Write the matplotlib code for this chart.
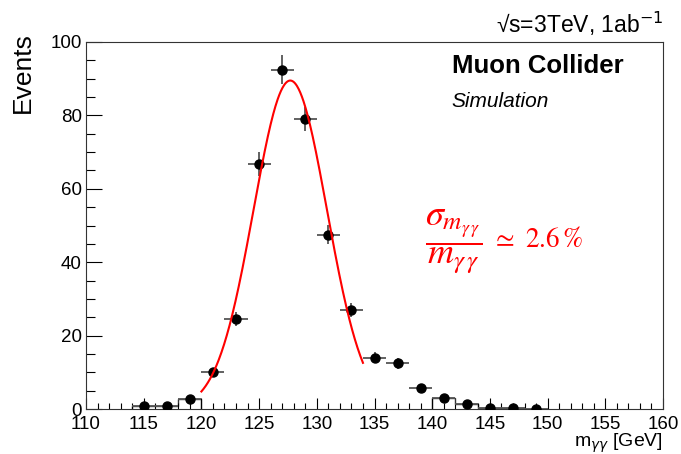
import numpy as np
import matplotlib
matplotlib.use("Agg")
import matplotlib.pyplot as plt
from matplotlib.ticker import MultipleLocator

plt.rcParams['font.family'] = ['Liberation Sans', 'DejaVu Sans']

# Diphoton invariant mass histogram (2 GeV bins)
bin_centers = [115, 117, 119, 121, 123, 125, 127, 129, 131, 133,
               135, 137, 139, 141, 143, 145, 147, 149]
events = [0.9, 0.7, 2.7, 10.0, 24.5, 66.8, 92.5, 79.0, 47.5, 27.0,
          14.0, 12.5, 5.8, 3.0, 1.3, 0.3, 0.2, 0.1]
event_errors = [0.4, 0.4, 0.7, 1.3, 2.0, 3.3, 4.0, 3.3, 2.6, 1.8,
                1.5, 1.5, 1.0, 0.7, 0.5, 0.3, 0.2, 0.2]
bin_halfwidth = 1.0

# Gaussian fit result
fit_range = (120.0, 134.0)
fit_amp = 89.5
fit_mean = 127.7
fit_sigma = 3.18

x = np.array(bin_centers, dtype=float)
y = np.array(events)
ey = np.array(event_errors)

fig = plt.figure(figsize=(6.81, 4.54), dpi=100)
ax = fig.add_axes([86/681, 1 - 409/454, 577/681, 367/454])

# histogram outline, only visible outside the fit window
edges = np.append(x - bin_halfwidth, x[-1] + bin_halfwidth)
for lo, hi in [(114, 120), (140, 150)]:
    m = (x > lo) & (x < hi)
    e = edges[np.append(m, False) | np.append(False, m)]
    ax.stairs(y[m], e, color='#333333', lw=1.0, baseline=0, fill=False)

ax.errorbar(x, y, xerr=bin_halfwidth, yerr=ey, fmt='o', color='black',
            ecolor='#555555', elinewidth=1.3, capsize=0, markersize=6.5, zorder=3)

xf = np.linspace(fit_range[0], fit_range[1], 300)
yf = fit_amp * np.exp(-0.5 * ((xf - fit_mean) / fit_sigma) ** 2)
ax.plot(xf, yf, color='#ff0000', lw=1.5, zorder=4)

ax.set_xlim(110, 160)
ax.set_ylim(0, 100)
ax.xaxis.set_major_locator(MultipleLocator(5))
ax.xaxis.set_minor_locator(MultipleLocator(1))
ax.yaxis.set_major_locator(MultipleLocator(20))
ax.yaxis.set_minor_locator(MultipleLocator(5))
ax.tick_params(axis='x', which='major', direction='in', length=8, width=0.8, labelsize=13.5, pad=5)
ax.tick_params(axis='x', which='minor', direction='in', length=4, width=0.8)
ax.tick_params(axis='y', which='major', direction='in', length=11.5, width=0.8, labelsize=13.5, pad=3)
ax.tick_params(axis='y', which='minor', direction='in', length=6.5, width=0.8)
for s in ax.spines.values():
    s.set_linewidth(0.8)
    s.set_color('#333333')

ax.set_ylabel('Events', fontsize=19, loc='top')
ax.yaxis.set_label_coords(-0.088, 1.027)
ax.set_xlabel(r'm$_{\gamma\gamma}$ [GeV]', fontsize=14, loc='right')
ax.xaxis.set_label_coords(1.0, -0.062)

ax.text(1.0, 1.0245, '\u221as=3TeV, 1ab$^{-1}$', transform=ax.transAxes,
        ha='right', va='baseline', fontsize=16.5)
ax.text(0.634, 0.9155, 'Muon Collider', transform=ax.transAxes,
        ha='left', va='baseline', fontsize=18.5, fontweight='bold')
ax.text(0.633, 0.823, 'Simulation', transform=ax.transAxes,
        ha='left', va='baseline', fontsize=15, style='italic')

# resolution annotation
ax.text(0.5875, 0.455, r'$\dfrac{\sigma_{m_{\gamma\,\gamma}}}{m_{\gamma\,\gamma}}$',
        transform=ax.transAxes, ha='left', va='center', fontsize=26,
        color='#ff0000', math_fontfamily='stix')
ax.text(0.7036, 0.458, r'$\simeq$ 2.6$\,$%', transform=ax.transAxes,
        ha='left', va='center', fontsize=19.5, color='#ff0000',
        family='STIXGeneral', math_fontfamily='stix')

fig.savefig('out.png', dpi=100)
